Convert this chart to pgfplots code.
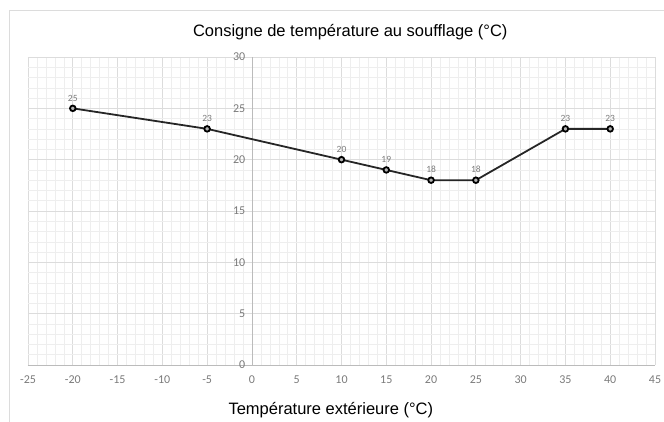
\documentclass[border=0pt]{standalone}
\usepackage{pgfplots}
\pgfplotsset{compat=1.18}
\usepackage{fontspec}
\setmainfont{Liberation Sans}
\newfontfamily\tickfont{Carlito}
\definecolor{gridc}{HTML}{DCDCDC}
\definecolor{minc}{HTML}{EEEEEE}
\definecolor{labc}{HTML}{7A7A7A}
\begin{document}
\begin{tikzpicture}[x=1pt,y=1pt]
\useasboundingbox (-28,-56) rectangle (636,365);
\draw[gridc, line width=1pt] (-18,-60) -- (-18,354) -- (640,354);
\begin{axis}[
    at={(0pt,0pt)}, anchor=south west,
    scale only axis,
    width=627pt, height=308pt,
    xmin=-25, xmax=45, ymin=0, ymax=30,
    xtick={-25,-20,...,45}, ytick={0,5,...,30},
    minor tick num=4,
    grid=both,
    major grid style={gridc, line width=0.8pt},
    minor grid style={minc, line width=0.6pt},
    axis x line=bottom, axis y line=left,
    axis y line shift=-223.93pt,
    axis line style={-, color=gridc!85!black, line width=0.8pt},
    tick style={draw=none},
    ticklabel style={font=\tickfont\fontsize{12}{13}\selectfont, text=labc},
    xticklabel style={yshift=-5pt},
    yticklabel style={xshift=-1pt},
    /pgf/number format/assume math mode=true,
    clip=false,
]
\addplot[black!85, line width=1.8pt, mark=*, mark size=2.8pt,
    mark options={fill=gray!60, draw=black, line width=1.8pt},
    nodes near coords, every node near coord/.style={font=\tickfont\fontsize{9.5}{10}\selectfont, text=labc, yshift=3pt}]
coordinates {(-20,25) (-5,23) (10,20) (15,19) (20,18) (25,18) (35,23) (40,23)};
\node[font=\fontsize{16.5}{18}\selectfont] at (rel axis cs:0.514,1) [yshift=25pt] {Consigne de température au soufflage (°C)};
\node[font=\fontsize{16.5}{18}\selectfont] at (rel axis cs:0.483,0) [yshift=-45pt] {Température extérieure (°C)};
\end{axis}
\end{tikzpicture}
\end{document}
